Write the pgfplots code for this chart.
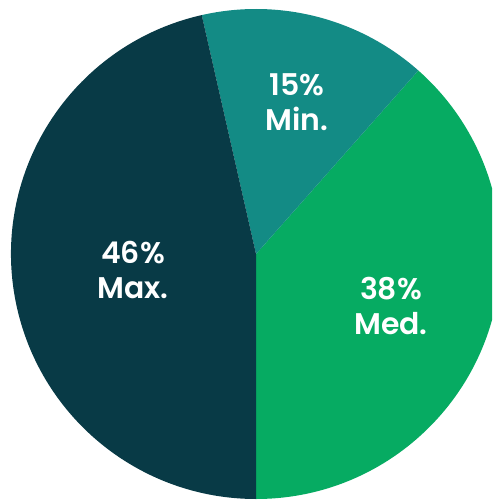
\documentclass[border=0pt]{standalone}
\usepackage{pgfplots}
\pgfplotsset{compat=1.18}
\usepackage{pgfplotstable}
\usepackage{fontspec}
\setmainfont{Poppins}[BoldFont={Poppins SemiBold}]
\definecolor{cMax}{HTML}{083A46}
\definecolor{cMin}{HTML}{138B85}
\definecolor{cMed}{HTML}{06AB62}
% slice shares (%), start/end angles (deg), label positions
\pgfplotstableread{
name share start end col lx ly
Med 38.5 -90 48.5 cMed 391 194
Min 15.1 48.5 102.8 cMin 297 398
Max 46.4 102.8 270 cMax 133 230
}\slices
\begin{document}
\begin{tikzpicture}
\begin{axis}[width=492bp,height=500bp,scale only axis,
  xmin=0,xmax=492,ymin=0,ymax=500,hide axis,clip=true]
\pgfplotsinvokeforeach{0,1,2}{
  \pgfplotstablegetelem{#1}{start}\of\slices \let\sa\pgfplotsretval
  \pgfplotstablegetelem{#1}{end}\of\slices \let\ea\pgfplotsretval
  \pgfplotstablegetelem{#1}{col}\of\slices \let\cc\pgfplotsretval
  \edef\tmp{\noexpand\fill[\cc] (axis cs:256,246) -- ++(\sa:245bp) arc[start angle=\sa,end angle=\ea,radius=245bp] -- cycle;}
  \tmp
}
\node[text=white,align=center,font=\bfseries\fontsize{30}{35}\selectfont] at (axis cs:391,194) {38\%\\Med.};
\node[text=white,align=center,font=\bfseries\fontsize{30}{35}\selectfont] at (axis cs:297,398) {15\%\\Min.};
\node[text=white,align=center,font=\bfseries\fontsize{30}{35}\selectfont] at (axis cs:133,230) {46\%\\Max.};
\end{axis}
\pgfresetboundingbox
\useasboundingbox (current axis.south west) rectangle (current axis.north east);
\end{tikzpicture}
\end{document}
